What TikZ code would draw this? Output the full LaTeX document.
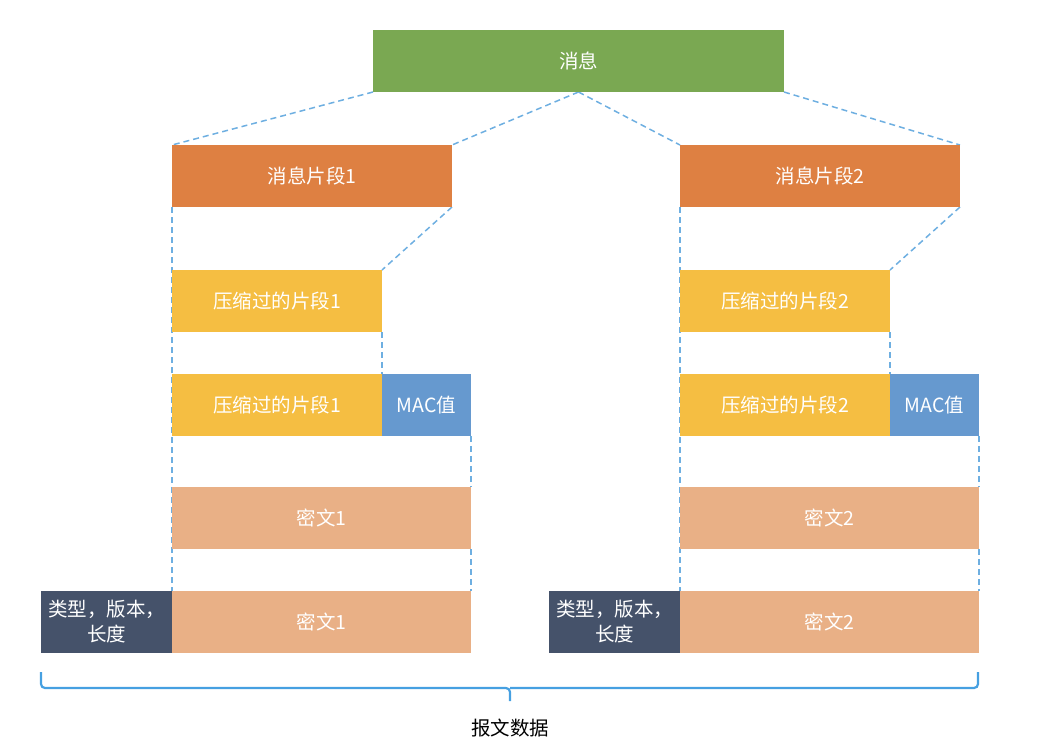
\documentclass[tikz,border=0pt]{standalone}
\usepackage{fontspec}
\setmainfont{Noto Sans CJK SC}
\usetikzlibrary{positioning,backgrounds}
\definecolor{msggreen}{RGB}{122,168,82}
\definecolor{segorange}{RGB}{222,128,66}
\definecolor{cmpyellow}{RGB}{245,190,66}
\definecolor{macblue}{RGB}{102,153,207}
\definecolor{ctpeach}{RGB}{233,176,134}
\definecolor{hdrslate}{RGB}{69,82,106}
\definecolor{guide}{RGB}{110,175,225}
\definecolor{bracec}{RGB}{70,160,225}

\begin{document}
\begin{tikzpicture}[
  x=1pt, y=-1pt,
  font=\fontsize{19.5}{25}\selectfont,
  blk/.style={anchor=north west,minimum height=62pt,inner sep=0pt,outer sep=0pt,text=white,align=center},
  msg/.style={blk,fill=msggreen},
  seg/.style={blk,fill=segorange},
  cmp/.style={blk,fill=cmpyellow},
  mac/.style={blk,fill=macblue,minimum width=89pt},
  ct/.style={blk,fill=ctpeach},
  hdr/.style={blk,fill=hdrslate,minimum width=131pt},
  guideline/.style={draw=guide,line width=1.5pt,dash pattern=on 6pt off 4pt},
  bracepath/.style={draw=bracec,line width=2.2pt,rounded corners=4pt}
]
\useasboundingbox (0,0) rectangle (1048,748);
% message and its two segments
\node[msg,minimum width=411pt] (msg) at (373,30) {消息};
\node[seg,minimum width=280pt] (seg1) at (172,145) {消息片段1};
\node[seg,minimum width=280pt] (seg2) at (680,145) {消息片段2};
% compressed segments
\node[cmp,minimum width=210pt] (cmp1) at (172,270) {压缩过的片段1};
\node[cmp,minimum width=210pt] (cmp2) at (680,270) {压缩过的片段2};
\node[cmp,minimum width=210pt] (cmpm1) at (172,374) {压缩过的片段1};
\node[mac] (mac1) [right=0pt of cmpm1.north east,anchor=north west] {MAC值};
\node[cmp,minimum width=210pt] (cmpm2) at (680,374) {压缩过的片段2};
\node[mac] (mac2) [right=0pt of cmpm2.north east,anchor=north west] {MAC值};
% ciphertext
\node[ct,minimum width=299pt] (ct1) at (172,487) {密文1};
\node[ct,minimum width=299pt] (ct2) at (680,487) {密文2};
\node[ct,minimum width=299pt] (ct1b) at (172,591) {密文1};
\node[hdr] (hdr1) [left=0pt of ct1b.north west,anchor=north east] {类型，版本，\\长度};
\node[ct,minimum width=299pt] (ct2b) at (680,591) {密文2};
\node[hdr] (hdr2) [left=0pt of ct2b.north west,anchor=north east] {类型，版本，\\长度};
% guide lines
\begin{scope}[on background layer]
\path[guideline] (msg.south west)--(seg1.north west);
\path[guideline] (msg.south)--(seg1.north east);
\path[guideline] (msg.south)--(seg2.north west);
\path[guideline] (msg.south east)--(seg2.north east);
\path[guideline] (seg1.south west)--(ct1b.north west);
\path[guideline] (seg2.south west)--(ct2b.north west);
\path[guideline] (seg1.south east)--(cmp1.north east);
\path[guideline] (seg2.south east)--(cmp2.north east);
\path[guideline] (cmp1.south east)--(cmpm1.north east);
\path[guideline] (cmp2.south east)--(cmpm2.north east);
\path[guideline] (mac1.south east)--(ct1.north east);
\path[guideline] (mac2.south east)--(ct2.north east);
\path[guideline] (ct1.south east)--(ct1b.north east);
\path[guideline] (ct2.south east)--(ct2b.north east);
\end{scope}
% brace
\coordinate (bl) at (41,672);
\coordinate (br) at (978,672);
\coordinate (bm) at (510,688);
\coordinate (tip) at (510,701);
\path[bracepath] (bl) |- (bm) -- (tip);
\path[bracepath] (br) |- (bm);
\node (pkt) [below=14pt of tip] {报文数据};
\end{tikzpicture}
\end{document}
